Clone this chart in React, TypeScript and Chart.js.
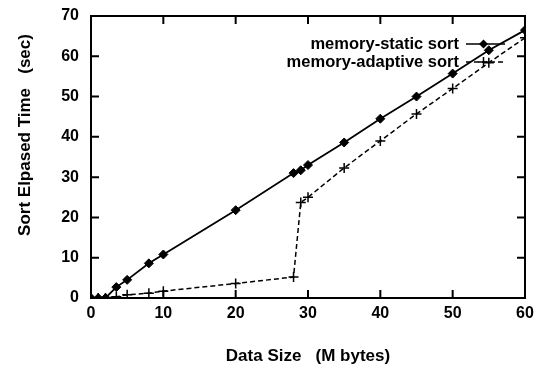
import React, { useEffect, useRef } from "react";
import { Chart, registerables } from "chart.js";

Chart.register(...registerables);

const staticX = [0, 1, 2, 3.5, 5, 8, 10, 20, 28, 29, 30, 35, 40, 45, 50, 55, 60];
const staticY = [0, 0, 0, 2.7, 4.5, 8.6, 10.8, 21.8, 31, 31.7, 33, 38.6, 44.5, 50, 55.7, 61.5, 66.5];
const adaptiveX = [0, 1, 2, 3.5, 5, 8, 10, 20, 28, 29, 30, 35, 40, 45, 50, 55, 60];
const adaptiveY = [0, 0, 0, 0.3, 0.8, 1.2, 1.7, 3.6, 5.2, 23.7, 25, 32.3, 39, 45.7, 52, 58.4, 64.6];
const seriesLabels = ["memory-static sort", "memory-adaptive sort"];
const xTicks = [0, 10, 20, 30, 40, 50, 60];
const yTicks = [0, 10, 20, 30, 40, 50, 60, 70];
const xTitle = "Data Size   (M bytes)";
const yTitle = "Sort Elpased Time   (sec)";

const FONT = "'Liberation Sans', Arial, Helvetica, sans-serif";

const framePlugin = {
  id: "frameTicks",
  afterDatasetsDraw(chart: any) {
    const { ctx, chartArea: a, scales } = chart;
    ctx.save();
    ctx.strokeStyle = "#000";
    ctx.lineWidth = 2;
    ctx.strokeRect(a.left, a.top, a.right - a.left, a.bottom - a.top);
    const L = 8;
    ctx.beginPath();
    xTicks.forEach((v) => {
      const px = scales.x.getPixelForValue(v);
      ctx.moveTo(px, a.bottom);
      ctx.lineTo(px, a.bottom - L);
      ctx.moveTo(px, a.top);
      ctx.lineTo(px, a.top + L);
    });
    yTicks.forEach((v) => {
      const py = scales.y.getPixelForValue(v);
      ctx.moveTo(a.left, py);
      ctx.lineTo(a.left + L, py);
      ctx.moveTo(a.right, py);
      ctx.lineTo(a.right - L, py);
    });
    ctx.stroke();

    // axis titles
    ctx.fillStyle = "#000";
    ctx.textAlign = "center";
    ctx.textBaseline = "middle";
    ctx.font = `bold 17px ${FONT}`;
    ctx.fillText(xTitle, (a.left + a.right) / 2, 356);
    ctx.save();
    ctx.translate(25, 135);
    ctx.rotate(-Math.PI / 2);
    ctx.fillText(yTitle, 0, 0);
    ctx.restore();

    // legend
    ctx.font = `bold 16.5px ${FONT}`;
    ctx.textAlign = "right";
    const textRight = 459;
    const x0 = 466;
    const x1 = 505;
    const rows = [44, 62];
    chart.data.datasets.forEach((ds: any, i: number) => {
      const y = rows[i];
      ctx.fillText(ds.label, textRight, y);
      ctx.beginPath();
      ctx.lineWidth = 1.5;
      ctx.setLineDash(ds.borderDash || []);
      ctx.moveTo(x0, y);
      ctx.lineTo(x1, y);
      ctx.stroke();
      ctx.setLineDash([]);
      const cx = (x0 + x1) / 2 - 2;
      if (i === 0) {
        const r = 4.5;
        ctx.beginPath();
        ctx.moveTo(cx, y - r);
        ctx.lineTo(cx + r, y);
        ctx.lineTo(cx, y + r);
        ctx.lineTo(cx - r, y);
        ctx.closePath();
        ctx.fill();
      } else {
        const r = 5;
        ctx.beginPath();
        ctx.moveTo(cx - r, y);
        ctx.lineTo(cx + r, y);
        ctx.moveTo(cx, y - r);
        ctx.lineTo(cx, y + r);
        ctx.stroke();
      }
    });
    ctx.restore();
  },
};

export default function App() {
  const ref = useRef<HTMLCanvasElement>(null);
  useEffect(() => {
    if (!ref.current) return;
    const chart = new Chart(ref.current, {
      type: "line",
      data: {
        datasets: [
          {
            label: seriesLabels[0],
            data: staticX.map((x, i) => ({ x, y: staticY[i] })),
            borderColor: "#000",
            backgroundColor: "#000",
            borderWidth: 1.8,
            pointStyle: "rectRot",
            pointRadius: 4.5,
            pointBorderWidth: 1,
            tension: 0,
          },
          {
            label: seriesLabels[1],
            data: adaptiveX.map((x, i) => ({ x, y: adaptiveY[i] })),
            borderColor: "#000",
            backgroundColor: "#000",
            borderWidth: 1.5,
            borderDash: [5, 3],
            pointStyle: "cross",
            pointRadius: 5,
            pointBorderWidth: 1.5,
            tension: 0,
          },
        ],
      },
      options: {
        animation: false,
        responsive: false,
        maintainAspectRatio: false,
        layout: { padding: { top: 16, right: 11, left: 0, bottom: 0 } },
        plugins: { legend: { display: false }, tooltip: { enabled: false } },
        scales: {
          x: {
            type: "linear",
            min: 0,
            max: 60,
            afterBuildTicks: (s: any) => {
              s.ticks = xTicks.map((v) => ({ value: v }));
            },
            afterFit: (s: any) => {
              s.height = 67;
              s.paddingLeft = 0;
              s.paddingRight = 0;
              s.paddingTop = 0;
              s.paddingBottom = 0;
            },
            grid: { display: false, drawTicks: false },
            border: { display: false },
            ticks: {
              color: "#000",
              padding: 6,
              maxRotation: 0,
              font: { family: FONT, size: 16, weight: "bold" },
            },
            title: { display: false },
          },
          y: {
            type: "linear",
            min: 0,
            max: 70,
            afterBuildTicks: (s: any) => {
              s.ticks = yTicks.map((v) => ({ value: v }));
            },
            afterFit: (s: any) => {
              s.width = 91;
              s.paddingLeft = 0;
              s.paddingRight = 0;
              s.paddingTop = 0;
              s.paddingBottom = 0;
            },
            grid: { display: false, drawTicks: false },
            border: { display: false },
            ticks: {
              color: "#000",
              padding: 12,
              font: { family: FONT, size: 16, weight: "bold" },
            },
            title: { display: false },
          },
        },
      },
      plugins: [framePlugin],
    });
    return () => chart.destroy();
  }, []);
  return (
    <div style={{ position: "absolute", left: 0, top: 0, width: 536, height: 365, background: "#fff" }}>
      <canvas ref={ref} width={536} height={365} style={{ width: 536, height: 365 }} />
    </div>
  );
}
